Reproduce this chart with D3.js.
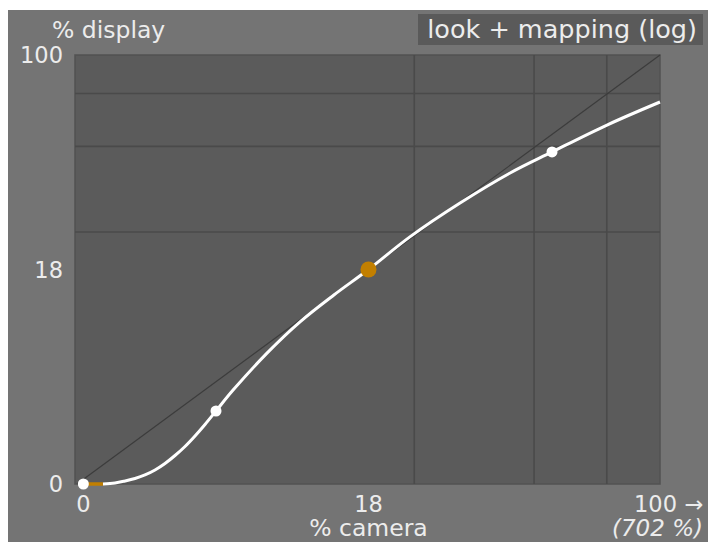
<!DOCTYPE html>
<html>
<head>
<meta charset="utf-8">
<script src="https://cdn.jsdelivr.net/npm/d3@7"></script>
<style>
  html, body { margin: 0; padding: 0; background: #ffffff; }
  svg { display: block; }
  text { font-family: "DejaVu Sans", sans-serif; fill: #ececec; }
</style>
</head>
<body>
<svg id="chart" width="715" height="546"></svg>
<script>
// ---- data (percent camera / percent display) ----
const titleText = "look + mapping (log)";
const yAxisTitle = "% display";
const xAxisTitle = "% camera";
const xRangeNote = "(702 %)";
const xTickValues = [0.17, 18, 100];
const xTickLabels = ["0", "18", "100 \u2192"];
const yTickValues = [0, 18, 100];
const yTickLabels = ["0", "18", "100"];
const xGridValues = [24.2, 49.5, 74.6];
const yGridValues = [25, 50, 75];
const curveX = [0.73, 1.107, 1.436, 1.783, 2.148, 2.534, 2.939, 3.367, 3.817, 4.291, 4.79, 5.37, 6.34, 8.54, 11.09, 14.20, 18, 23.54, 32.07, 43.12, 54.85, 74.68, 100];
const curveY = [0, 0.036, 0.109, 0.201, 0.333, 0.527, 0.79, 1.13, 1.537, 2.046, 2.648, 3.42, 4.77, 7.71, 10.87, 14.20, 18, 23.98, 31.84, 40.57, 47.88, 58.98, 70.3];
const toeX = [0.17, 0.73];
const toeY = [0, 0];
const nodeX = [0.17, 5.37, 18, 54.85];
const nodeY = [0, 3.42, 18, 47.88];
const nodeKind = ["white", "white", "grey", "white"];
const logBase = 20.75;

// ---- layout ----
const svg = d3.select("#chart");
const plot = { left: 77, right: 660, top: 55, bottom: 484 };
const offset = 100 / (logBase - 1);

const xLog = d3.scaleLog().domain([offset, 100 + offset]).range([plot.left, plot.right]);
const yLog = d3.scaleLog().domain([offset, 100 + offset]).range([plot.bottom, plot.top]);
const x = p => xLog(p + offset);
const y = p => yLog(p + offset);

// outer background
svg.append("rect").attr("x", 8).attr("y", 10).attr("width", 700).attr("height", 532)
  .attr("fill", "#747474");

// plot area
svg.append("rect")
  .attr("x", plot.left - 2).attr("y", plot.top)
  .attr("width", plot.right - plot.left + 2).attr("height", plot.bottom - plot.top)
  .attr("fill", "#5b5b5b").attr("stroke", "#525252").attr("stroke-width", 1.5);

// grid
const g = svg.append("g");
g.selectAll("line.gx").data(xGridValues).join("line")
  .attr("x1", d => x(d)).attr("x2", d => x(d))
  .attr("y1", plot.top).attr("y2", plot.bottom)
  .attr("stroke", "#4a4a4a").attr("stroke-width", 1.6);
g.selectAll("line.gy").data(yGridValues).join("line")
  .attr("y1", d => y(d)).attr("y2", d => y(d))
  .attr("x1", plot.left - 2).attr("x2", plot.right)
  .attr("stroke", "#4a4a4a").attr("stroke-width", 1.6);

// identity diagonal
svg.append("line")
  .attr("x1", x(0)).attr("y1", y(0)).attr("x2", x(100)).attr("y2", y(100))
  .attr("stroke", "#3c3c3c").attr("stroke-width", 1.2);

// curve
const line = d3.line().x(d => x(d[0])).y(d => y(d[1])).curve(d3.curveCatmullRom.alpha(0.5));
svg.append("path").datum(curveX.map((v, i) => [v, curveY[i]]))
  .attr("d", line).attr("fill", "none").attr("stroke", "#ffffff").attr("stroke-width", 3);
svg.append("path").datum(toeX.map((v, i) => [v, toeY[i]]))
  .attr("d", d3.line().x(d => x(d[0])).y(d => y(d[1])))
  .attr("fill", "none").attr("stroke", "#c27f00").attr("stroke-width", 3.5);

// nodes
svg.selectAll("circle.node").data(nodeX.map((v, i) => ({ x: v, y: nodeY[i], k: nodeKind[i] })))
  .join("circle")
  .attr("cx", d => x(d.x)).attr("cy", d => y(d.y))
  .attr("r", d => d.k === "grey" ? 8 : 5.5)
  .attr("fill", d => d.k === "grey" ? "#c27f00" : "#ffffff");

// y tick labels
svg.selectAll("text.yt").data(yTickValues).join("text")
  .attr("x", 63).attr("y", d => y(d)).attr("dy", "0.36em")
  .attr("text-anchor", "end").attr("font-size", 22.5)
  .text((d, i) => yTickLabels[i]);

// x tick labels
svg.selectAll("text.xt").data(xTickValues).join("text")
  .attr("x", (d, i) => i === xTickValues.length - 1 ? 703 : x(d))
  .attr("y", 512)
  .attr("text-anchor", (d, i) => i === xTickValues.length - 1 ? "end" : "middle")
  .attr("font-size", 22.5)
  .text((d, i) => xTickLabels[i]);

// axis titles
svg.append("text").attr("x", 52).attr("y", 38).attr("font-size", 23.5).text(yAxisTitle);
svg.append("text").attr("x", x(18)).attr("y", 536).attr("text-anchor", "middle")
  .attr("font-size", 23.5).text(xAxisTitle);
svg.append("text").attr("x", 703).attr("y", 536).attr("text-anchor", "end")
  .attr("font-size", 23).attr("font-style", "italic").text(xRangeNote);

// title box
svg.append("rect").attr("x", 418).attr("y", 14).attr("width", 285).attr("height", 31)
  .attr("fill", "#5a5a5a");
svg.append("text").attr("x", 697).attr("y", 38).attr("text-anchor", "end")
  .attr("font-size", 25.5).text(titleText);
</script>
</body>
</html>
